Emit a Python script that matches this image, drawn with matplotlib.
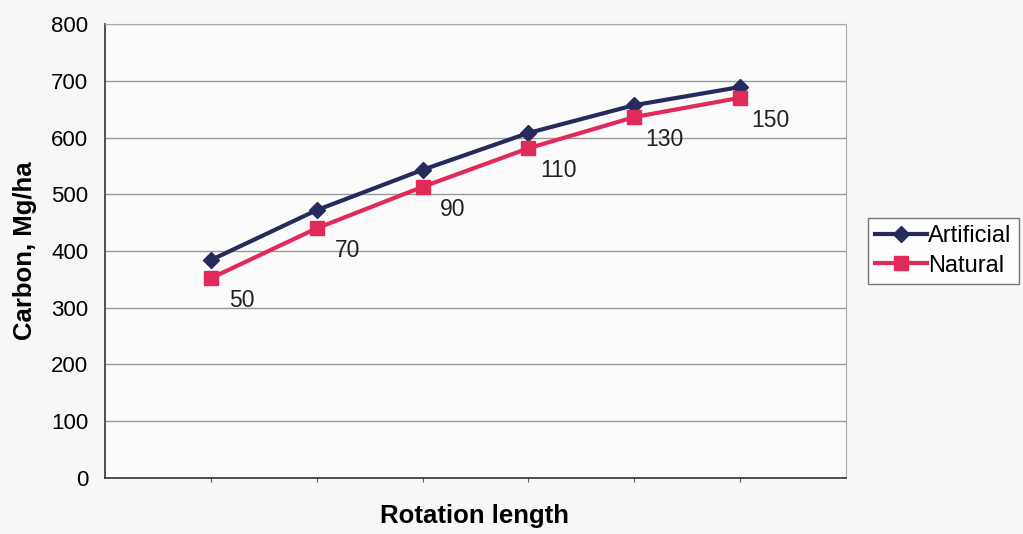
import matplotlib
matplotlib.use('Agg')
import matplotlib.pyplot as plt

rotation = ['50', '70', '90', '110', '130', '150']
artificial = [384, 472, 543, 608, 657, 689]
natural = [352, 440, 513, 581, 636, 670]
y_ticks = [0, 100, 200, 300, 400, 500, 600, 700, 800]

plt.rcParams['font.family'] = ['Liberation Sans', 'DejaVu Sans']

fig = plt.figure(figsize=(10.23, 5.34), dpi=100)
fig.patch.set_facecolor('#f7f7f7')
ax = fig.add_axes([0.1026, 0.1049, 0.7243, 0.8501])
ax.set_facecolor('#fbfbfb')

xs = list(range(1, len(rotation) + 1))
ax.plot(xs, artificial, color='#262a5c', lw=3, marker='D', ms=8, label='Artificial')
ax.plot(xs, natural, color='#e02a5a', lw=3, marker='s', ms=10, label='Natural')

for x, y, lab in zip(xs, natural, rotation):
    ax.annotate(lab, (x, y), xytext=(22, -16), textcoords='offset points',
                ha='center', va='center', fontsize=16.5, color='#222222')

ax.set_xlim(0, len(rotation) + 1)
ax.set_ylim(0, 800)
ax.set_yticks(y_ticks)
ax.set_xticks(xs)
ax.set_xticklabels([])
ax.tick_params(axis='x', length=3, color='#555555')
ax.tick_params(axis='y', length=0, labelsize=16, pad=12)
ax.grid(axis='y', color='#999999', lw=1)
ax.set_axisbelow(True)
for s in ['top', 'right']:
    ax.spines[s].set_color('#aaaaaa')
for s in ['left', 'bottom']:
    ax.spines[s].set_color('#333333')
    ax.spines[s].set_linewidth(1.2)

ax.set_ylabel('Carbon, Mg/ha', fontsize=18.5, fontweight='bold', labelpad=10)
fig.text(0.4643, 0.02, 'Rotation length', ha='center', fontsize=18.5, fontweight='bold')

leg = ax.legend(loc='center left', bbox_to_anchor=(1.03, 0.50), frameon=True,
                fancybox=False, edgecolor='#555555', fontsize=17, handlelength=2.2,
                handletextpad=0.05, borderpad=0.3, labelspacing=0.3, borderaxespad=0)
leg.get_frame().set_linewidth(1.0)

fig.savefig('out.png', dpi=100, facecolor=fig.get_facecolor())
